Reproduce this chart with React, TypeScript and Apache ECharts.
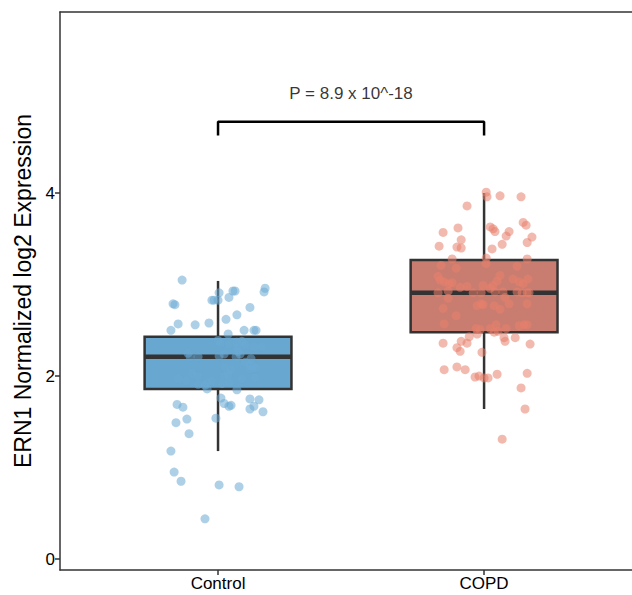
import React, { useEffect, useRef } from "react";
import * as echarts from "echarts";

const CATEGORIES = ["Control", "COPD"];
const Y_TICKS = [0, 2, 4];
const P_LABEL = "P = 8.9 x 10^-18";

// box stats: [lower whisker, Q1, median, Q3, upper whisker]
const CONTROL_BOX = [1.18, 1.86, 2.21, 2.43, 3.04];
const COPD_BOX = [1.64, 2.48, 2.91, 3.27, 4.0];

const CONTROL_VALUES = [
  3.05, 2.91, 2.93, 2.93, 2.96, 2.92, 2.79, 2.78, 2.83, 2.83, 2.83, 2.86, 2.75, 2.67, 2.62, 2.57, 2.56,
  2.58, 2.5, 2.46, 2.5, 2.5, 2.5, 2.39, 2.36, 2.35, 2.37, 2.38, 2.34, 2.32, 2.32, 2.31, 2.27, 2.24,
  2.25, 2.21, 2.21, 2.22, 2.24, 2.21, 2.15, 2.19, 2.13, 2.11, 2.1, 2.07, 2.02, 2.0, 2.08, 2.09, 2.03,
  2.0, 1.97, 1.95, 1.93, 1.95, 1.91, 1.9, 1.92, 1.93, 1.97, 1.98, 1.86, 1.85, 1.76, 1.7, 1.67, 1.68,
  1.75, 1.74, 1.67, 1.64, 1.61, 1.69, 1.66, 1.49, 1.53, 1.54, 1.37, 1.18, 0.95, 0.85, 0.81, 0.79, 0.44,
];
const CONTROL_JITTER = [
  -0.135, 0.004, 0.056, 0.064, 0.177, 0.173, -0.169, -0.162, -0.023, -0.015, 0, 0.041, 0.12, 0.071,
  0.03, -0.15, -0.086, -0.034, -0.177, 0.038, 0.098, 0.135, 0.143, 0, 0.008, 0.041, 0.071, 0.09, 0.102,
  0.135, 0.165, 0.071, 0.075, 0.083, -0.113, -0.105, -0.075, 0.004, 0.023, 0.068, 0.102, 0.124, 0.12,
  0.132, 0.026, 0.049, 0.038, 0.023, 0.12, 0.143, -0.098, -0.075, -0.15, -0.12, -0.041, -0.023, -0.075,
  -0.049, 0.015, 0.041, 0.09, 0.139, -0.041, 0.071, 0.011, 0.023, 0.041, 0.049, 0.12, 0.154, 0.135,
  0.12, 0.169, -0.154, -0.132, -0.158, -0.117, -0.008, -0.109, -0.177, -0.165, -0.139, 0.004, 0.079,
  -0.049,
];

const COPD_VALUES = [
  4.01, 3.96, 3.97, 3.96, 3.86, 3.68, 3.65, 3.63, 3.61, 3.58, 3.62, 3.57, 3.58, 3.53, 3.52, 3.49, 3.46,
  3.44, 3.42, 3.41, 3.4, 3.39, 3.28, 3.29, 3.28, 3.23, 3.21, 3.18, 3.2, 3.09, 3.05, 3.03, 3.01, 3.02,
  3.1, 3.04, 2.99, 3.06, 3.03, 3.01, 3.06, 2.97, 2.98, 2.99, 2.96, 2.91, 2.93, 2.91, 2.91, 2.92, 2.92,
  2.86, 2.92, 2.91, 2.91, 2.91, 2.85, 2.74, 2.66, 2.77, 2.79, 2.78, 2.77, 2.79, 2.79, 2.73, 2.57, 2.52,
  2.51, 2.52, 2.56, 2.49, 2.52, 2.55, 2.56, 2.56, 2.46, 2.43, 2.48, 2.36, 2.38, 2.36, 2.31, 2.27, 2.42,
  2.38, 2.42, 2.35, 2.26, 2.07, 2.1, 2.07, 1.99, 2.0, 1.98, 1.98, 2.02, 2.03, 1.87, 1.64, 1.31,
];
const COPD_JITTER = [
  0.008, 0.011, 0.06, 0.139, -0.064, 0.147, 0.158, 0.023, 0.034, 0.041, -0.098, -0.154, 0.094, 0.083,
  0.18, -0.086, 0.162, 0.068, -0.169, -0.102, -0.086, 0.03, -0.12, 0.008, 0.162, 0.008, -0.162, -0.105,
  0.124, -0.173, -0.165, -0.15, -0.132, -0.12, 0.06, 0.049, 0.034, 0.109, 0.132, 0.147, 0.165, -0.09,
  -0.064, -0.004, 0.023, -0.173, -0.135, -0.041, -0.011, 0.041, 0.071, 0.079, 0.124, 0.143, 0.162,
  0.169, -0.135, -0.154, -0.105, -0.026, -0.011, -0.004, 0.038, 0.094, 0.162, 0.06, -0.15, -0.03,
  -0.015, 0.023, 0.045, 0.053, 0.083, 0.132, 0.15, 0.162, -0.026, -0.056, 0.038, -0.154, -0.086, -0.064,
  -0.102, -0.09, 0.075, 0.079, 0.117, 0.173, -0.008, -0.15, -0.102, -0.071, -0.034, -0.019, 0, 0.015,
  0.049, 0.162, 0.139, 0.154, 0.068,
];

const BRACKET_TOP = 4.78;
const BRACKET_FOOT = 4.63;
const P_LABEL_Y = 5.09;

const BOX_FILLS = ["#68a7cf", "#c97d70"];
const POINT_COLORS = ["#6aaad3", "#e8806c"];
const FONT = "Liberation Sans, Arial, Helvetica, sans-serif";

export default function App() {
  const ref = useRef<HTMLDivElement>(null);
  useEffect(() => {
    document.body.style.margin = "0";
    const chart = echarts.init(ref.current!, null, { renderer: "svg" });
    const xMin = 0.406;
    const xMax = 2.556;
    const yMin = -0.12;
    const yMax = 5.98;
    const axisColor = "#333";
    const boxData = [
      [1, ...CONTROL_BOX],
      [2, ...COPD_BOX],
    ];
    const option: any = {
      animation: false,
      backgroundColor: "#fff",
      grid: { left: 60, right: 0, top: 12, bottom: 25 },
      xAxis: [
        {
          type: "value",
          min: xMin,
          max: xMax,
          position: "bottom",
          splitLine: { show: false },
          axisLine: { show: true, onZero: false, lineStyle: { color: axisColor, width: 1.5 } },
          axisTick: { show: true, length: 5, customValues: [1, 2], lineStyle: { color: axisColor, width: 1.5 } },
          axisLabel: {
            customValues: [1, 2],
            formatter: (v: number) => CATEGORIES[Math.round(v) - 1] ?? "",
            color: "#000",
            fontSize: 17,
            fontFamily: FONT,
            margin: 5,
          },
        },
        {
          type: "value",
          min: xMin,
          max: xMax,
          position: "top",
          splitLine: { show: false },
          axisLine: { show: true, onZero: false, lineStyle: { color: axisColor, width: 1.5 } },
          axisTick: { show: false },
          axisLabel: { show: false },
        },
      ],
      yAxis: {
        type: "value",
        min: yMin,
        max: yMax,
        splitLine: { show: false },
        axisLine: { show: true, onZero: false, lineStyle: { color: axisColor, width: 1.5 } },
        axisTick: { show: true, length: 5, customValues: Y_TICKS, lineStyle: { color: axisColor, width: 1.5 } },
        axisLabel: {
          customValues: Y_TICKS,
          color: "#000",
          fontSize: 17,
          fontFamily: FONT,
          margin: 5,
        },
        name: "ERN1 Normalized log2 Expression",
        nameLocation: "middle",
        nameGap: 25,
        nameTextStyle: { fontSize: 23, color: "#000", fontFamily: FONT },
      },
      series: [
        {
          type: "custom",
          z: 1,
          data: boxData,
          encode: { x: 0, y: [1, 2, 3, 4, 5] },
          renderItem: (params: any, api: any) => {
            const x = api.value(0);
            const low = api.value(1);
            const q1 = api.value(2);
            const med = api.value(3);
            const q3 = api.value(4);
            const high = api.value(5);
            const hw = api.size([0.276, 0])[0];
            const pHigh = api.coord([x, high]);
            const pQ3 = api.coord([x, q3]);
            const pMed = api.coord([x, med]);
            const pQ1 = api.coord([x, q1]);
            const pLow = api.coord([x, low]);
            const stroke = { stroke: "#333", lineWidth: 2.5 };
            return {
              type: "group",
              children: [
                { type: "line", shape: { x1: pHigh[0], y1: pHigh[1], x2: pQ3[0], y2: pQ3[1] }, style: stroke },
                { type: "line", shape: { x1: pQ1[0], y1: pQ1[1], x2: pLow[0], y2: pLow[1] }, style: stroke },
                {
                  type: "rect",
                  shape: { x: pQ3[0] - hw, y: pQ3[1], width: hw * 2, height: pQ1[1] - pQ3[1] },
                  style: { fill: BOX_FILLS[params.dataIndex], stroke: "#333", lineWidth: 2.5 },
                },
                {
                  type: "line",
                  shape: { x1: pMed[0] - hw, y1: pMed[1], x2: pMed[0] + hw, y2: pMed[1] },
                  style: { stroke: "#333", lineWidth: 4.5 },
                },
              ],
            };
          },
        },
        {
          type: "scatter",
          z: 3,
          symbolSize: 9,
          data: CONTROL_VALUES.map((v, i) => [1 + CONTROL_JITTER[i], v]),
          itemStyle: { color: POINT_COLORS[0], opacity: 0.55 },
        },
        {
          type: "scatter",
          z: 3,
          symbolSize: 9,
          data: COPD_VALUES.map((v, i) => [2 + COPD_JITTER[i], v]),
          itemStyle: { color: POINT_COLORS[1], opacity: 0.55 },
        },
        {
          type: "line",
          z: 4,
          symbol: "none",
          data: [
            [1, BRACKET_FOOT],
            [1, BRACKET_TOP],
            [2, BRACKET_TOP],
            [2, BRACKET_FOOT],
          ],
          lineStyle: { color: "#000", width: 2.5 },
        },
        {
          type: "scatter",
          z: 4,
          symbolSize: 0,
          data: [[1.5, P_LABEL_Y]],
          label: {
            show: true,
            position: "inside",
            formatter: P_LABEL,
            fontSize: 17,
            color: "#000",
            fontFamily: FONT,
          },
        },
      ],
    };
    chart.setOption(option);
    return () => chart.dispose();
  }, []);
  return <div ref={ref} style={{ width: 632, height: 595 }} />;
}
